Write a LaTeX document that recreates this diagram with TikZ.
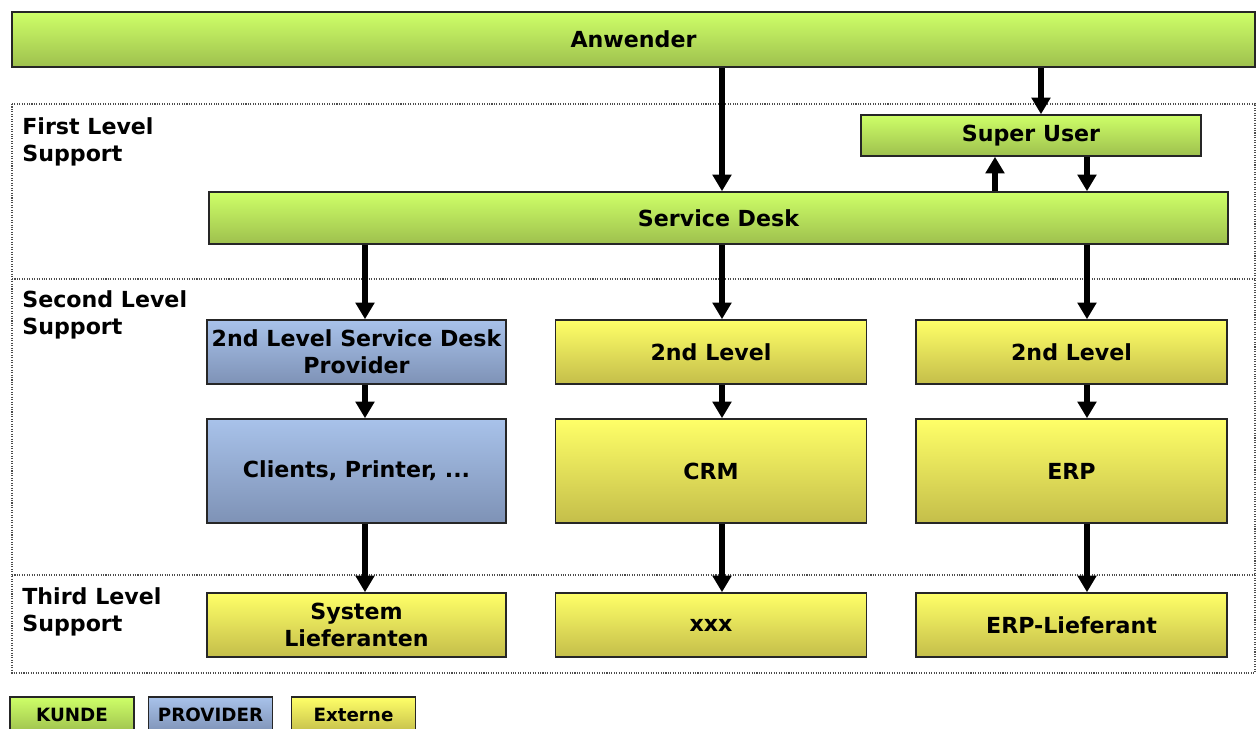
\documentclass[tikz,border=0pt]{standalone}
\usepackage{fontspec}
\setmainfont{DejaVu Sans}
\usetikzlibrary{arrows.meta}

\definecolor{kundetop}{RGB}{206,255,104}
\definecolor{kundebot}{RGB}{158,192,78}
\definecolor{provtop}{RGB}{168,194,234}
\definecolor{provbot}{RGB}{126,146,182}
\definecolor{exttop}{RGB}{255,255,104}
\definecolor{extbot}{RGB}{196,190,74}

\tikzset{
  box/.style={draw=black!85, line width=0.9pt, inner sep=0pt, align=center,
    font=\bfseries\fontsize{12.6}{15.4}\selectfont},
  kunde/.style={box, top color=kundetop, bottom color=kundebot},
  provider/.style={box, top color=provtop, bottom color=provbot},
  externe/.style={box, top color=exttop, bottom color=extbot},
  legend/.style={font=\bfseries\fontsize{10.4}{12}\selectfont, minimum width=2.48cm, minimum height=0.72cm},
  flow/.style={line width=3.4pt, -{Triangle[length=9.5pt,width=10.5pt]}},
  levelline/.style={gray!60!black, line width=0.6pt, dash pattern=on 0.6pt off 0.8pt},
  levellabel/.style={anchor=north west, inner sep=0pt, align=left,
    font=\bfseries\fontsize{12.6}{15.4}\selectfont}
}

\begin{document}
\begin{tikzpicture}[x=0.02cm,y=-0.02cm]
\useasboundingbox (0,0) rectangle (1260,729);

% support levels
\draw[levelline] (12,104) rectangle (1255,673);
\draw[levelline] (12,279) -- (1255,279);
\draw[levelline] (12,575) -- (1255,575);
\node[levellabel] (first) at (22,117) {First Level\\Support};
\node[levellabel] (second) at (22,290) {Second Level\\Support};
\node[levellabel] (third) at (22,587) {Third Level\\Support};

% boxes
\node[kunde, minimum width=24.86cm, minimum height=1.1cm] (anw) at (633.5,39.5) {Anwender};
\node[kunde, minimum width=6.8cm, minimum height=0.82cm] (su) at (1031,135.5) {Super User};
\node[kunde, minimum width=20.38cm, minimum height=1.04cm] (sd) at (718.5,218) {Service Desk};

\node[provider, minimum width=5.98cm, minimum height=1.28cm] (sdp) at (356.5,352) {2nd Level Service Desk\\Provider};
\node[externe, minimum width=6.22cm, minimum height=1.28cm] (crm2) at (711,352) {2nd Level};
\node[externe, minimum width=6.22cm, minimum height=1.28cm] (erp2) at (1071.5,352) {2nd Level};

\node[provider, minimum width=5.98cm, minimum height=2.08cm] (cli) at (356.5,471) {Clients, Printer, ...};
\node[externe, minimum width=6.22cm, minimum height=2.08cm] (crm) at (711,471) {CRM};
\node[externe, minimum width=6.22cm, minimum height=2.08cm] (erp) at (1071.5,471) {ERP};

\node[externe, minimum width=5.98cm, minimum height=1.28cm] (sys) at (356.5,625) {System\\Lieferanten};
\node[externe, minimum width=6.22cm, minimum height=1.28cm] (xxx) at (711,625) {xxx};
\node[externe, minimum width=6.22cm, minimum height=1.28cm] (erpl) at (1071.5,625) {ERP-Lieferant};

% legend
\node[kunde, legend] (lk) at (72,715) {KUNDE};
\node[provider, legend] (lp) at (210.5,715) {PROVIDER};
\node[externe, legend] (le) at (353.5,715) {Externe};

% arrow columns
\coordinate (ca) at (365,0);
\coordinate (cb) at (722,0);
\coordinate (cc) at (1087,0);
\coordinate (cu) at (995,0);
\coordinate (cs) at (1041,0);

\draw[flow] (anw.south -| cb) -- (sd.north -| cb);
\draw[flow] (anw.south -| cs) -- (su.north -| cs);
\draw[flow] (sd.north -| cu) -- (su.south -| cu);
\draw[flow] (su.south -| cc) -- (sd.north -| cc);

\draw[flow] (sd.south -| ca) -- (sdp.north -| ca);
\draw[flow] (sd.south -| cb) -- (crm2.north -| cb);
\draw[flow] (sd.south -| cc) -- (erp2.north -| cc);

\draw[flow] (sdp.south -| ca) -- (cli.north -| ca);
\draw[flow] (crm2.south -| cb) -- (crm.north -| cb);
\draw[flow] (erp2.south -| cc) -- (erp.north -| cc);

\draw[flow] (cli.south -| ca) -- (sys.north -| ca);
\draw[flow] (crm.south -| cb) -- (xxx.north -| cb);
\draw[flow] (erp.south -| cc) -- (erpl.north -| cc);
\end{tikzpicture}
\end{document}
